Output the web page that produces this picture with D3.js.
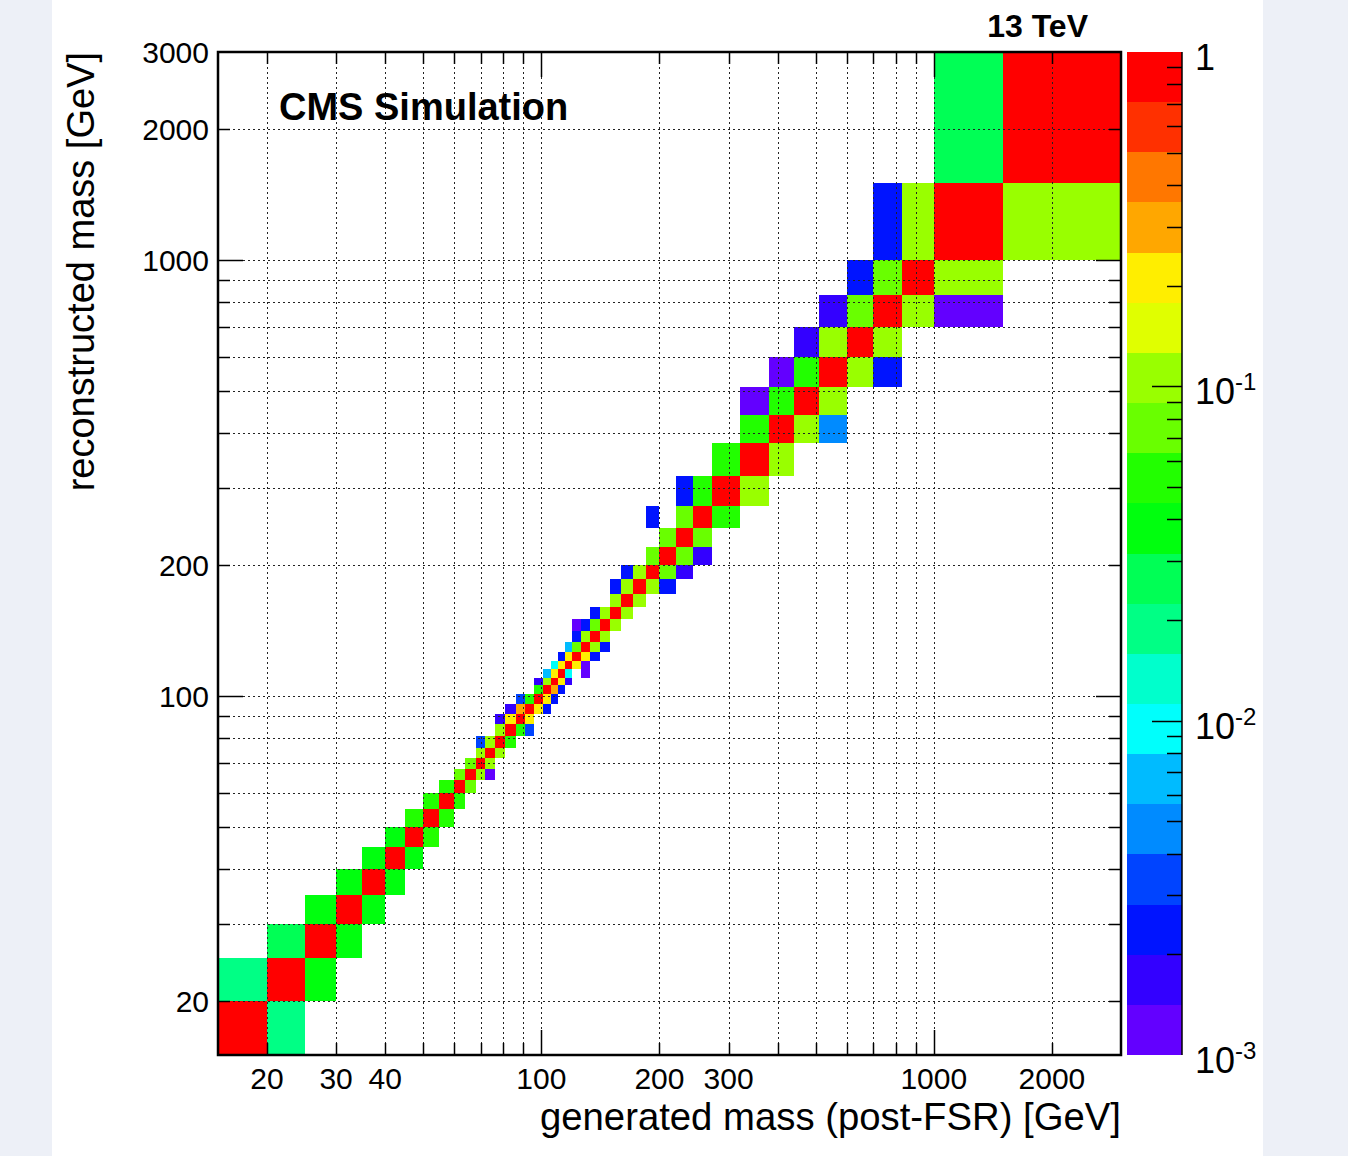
<!DOCTYPE html>
<html>
<head>
<meta charset="utf-8">
<script src="https://cdn.jsdelivr.net/npm/d3@7"></script>
<style>
  body { margin: 0; background: #edf0f7; }
  text { font-family: "Liberation Sans", Arial, Helvetica, sans-serif; fill: #000; }
</style>
</head>
<body>
<svg id="chart" width="1348" height="1156"></svg>
<script>
// Mass binning in GeV (same for gen and reco)
const massEdges = [15, 20, 25, 30, 35, 40, 45, 50, 55, 60, 64, 68, 72, 76, 81, 86, 91, 96, 101, 106,
    110, 115, 120, 126, 133, 141, 150, 160, 171, 185, 200, 220, 243, 273, 320, 380, 440, 510, 600,
    700, 830, 1000, 1500, 3000];

const xTickLabels = [20, 30, 40, 100, 200, 300, 1000, 2000];
const yTickLabels = [20, 100, 200, 1000, 2000, 3000];
const zTickLabels = [1, 0.1, 0.01, 0.001];
const nContours = 20;

// Migration cells: [gen bin, reco bin, fraction]
const cells = [
    [0, 0, 0.85], [0, 1, 0.019],
    [1, 0, 0.018], [1, 1, 0.88], [1, 2, 0.027],
    [2, 1, 0.038], [2, 2, 0.9], [2, 3, 0.036],
    [3, 2, 0.04], [3, 3, 0.89], [3, 4, 0.038],
    [4, 3, 0.041], [4, 4, 0.88], [4, 5, 0.04],
    [5, 4, 0.042], [5, 5, 0.88], [5, 6, 0.043],
    [6, 5, 0.044], [6, 6, 0.87], [6, 7, 0.046],
    [7, 6, 0.047], [7, 7, 0.86], [7, 8, 0.05],
    [8, 7, 0.052], [8, 8, 0.85], [8, 9, 0.058],
    [9, 8, 0.06], [9, 9, 0.83], [9, 10, 0.066],
    [10, 9, 0.07], [10, 10, 0.8], [10, 11, 0.075],
    [11, 10, 0.1], [11, 11, 0.78], [11, 12, 0.1], [11, 13, 0.003],
    [12, 10, 0.0013], [12, 11, 0.11], [12, 12, 0.76], [12, 13, 0.11],
    [13, 12, 0.11], [13, 13, 0.76], [13, 14, 0.1], [13, 15, 0.0015],
    [14, 13, 0.06], [14, 14, 0.74], [14, 15, 0.2], [14, 16, 0.0016],
    [15, 14, 0.06], [15, 15, 0.72], [15, 16, 0.28], [15, 17, 0.003],
    [16, 14, 0.003], [16, 15, 0.2], [16, 16, 0.74], [16, 17, 0.06],
    [17, 16, 0.2], [17, 17, 0.74], [17, 18, 0.06], [17, 19, 0.0018],
    [18, 16, 0.0025], [18, 17, 0.2], [18, 18, 0.74], [18, 19, 0.11], [18, 20, 0.006],
    [19, 17, 0.0025], [19, 18, 0.28], [19, 19, 0.75], [19, 20, 0.2], [19, 21, 0.0095],
    [20, 18, 0.0025], [20, 19, 0.2], [20, 20, 0.76], [20, 21, 0.2], [20, 22, 0.0025],
    [21, 19, 0.0016], [21, 20, 0.0095], [21, 21, 0.78], [21, 22, 0.2], [21, 23, 0.0065],
    [22, 21, 0.2], [22, 22, 0.8], [22, 23, 0.07], [22, 24, 0.0025], [22, 25, 0.0013],
    [23, 20, 0.0014], [23, 21, 0.0013], [23, 22, 0.2], [23, 23, 0.8], [23, 24, 0.1], [23, 25, 0.0025],
    [24, 22, 0.002], [24, 23, 0.12], [24, 24, 0.82], [24, 25, 0.07], [24, 26, 0.0025],
    [25, 23, 0.0025], [25, 24, 0.11], [25, 25, 0.83], [25, 26, 0.1],
    [26, 25, 0.1], [26, 26, 0.84], [26, 27, 0.1], [26, 28, 0.0025],
    [27, 26, 0.1], [27, 27, 0.84], [27, 28, 0.1], [27, 29, 0.0025],
    [28, 27, 0.1], [28, 28, 0.85], [28, 29, 0.1],
    [29, 28, 0.1], [29, 29, 0.85], [29, 30, 0.07], [29, 32, 0.0025],
    [30, 28, 0.0025], [30, 29, 0.07], [30, 30, 0.86], [30, 31, 0.07],
    [31, 29, 0.0016], [31, 30, 0.08], [31, 31, 0.86], [31, 32, 0.07], [31, 33, 0.0022],
    [32, 30, 0.0015], [32, 31, 0.07], [32, 32, 0.87], [32, 33, 0.06],
    [33, 32, 0.06], [33, 33, 0.87], [33, 34, 0.06],
    [34, 33, 0.1], [34, 34, 0.86], [34, 35, 0.06], [34, 36, 0.0013],
    [35, 34, 0.1], [35, 35, 0.86], [35, 36, 0.06], [35, 37, 0.0014],
    [36, 35, 0.1], [36, 36, 0.85], [36, 37, 0.06], [36, 38, 0.0015],
    [37, 35, 0.005], [37, 36, 0.1], [37, 37, 0.85], [37, 38, 0.1], [37, 39, 0.0015],
    [38, 37, 0.1], [38, 38, 0.85], [38, 39, 0.08], [38, 40, 0.002],
    [39, 37, 0.0025], [39, 38, 0.1], [39, 39, 0.85], [39, 40, 0.07], [39, 41, 0.0022],
    [40, 39, 0.1], [40, 40, 0.86], [40, 41, 0.1],
    [41, 39, 0.0014], [41, 40, 0.1], [41, 41, 0.88], [41, 42, 0.027],
    [42, 41, 0.1], [42, 42, 0.9]
];

const W = 1348, H = 1156;
const frame = { left: 218, right: 1121, top: 52, bottom: 1055 };
const bar = { left: 1127, right: 1182 };

const svg = d3.select("#chart");

// white page area
svg.append("rect")
    .attr("x", 52).attr("y", 0)
    .attr("width", 1211).attr("height", H)
    .attr("fill", "#fff");

const x = d3.scaleLog().domain([15, 3000]).range([frame.left, frame.right]);
const y = d3.scaleLog().domain([15, 3000]).range([frame.bottom, frame.top]);
const z = d3.scaleLog().domain([1e-3, 1]).range([frame.bottom, frame.top]);

// ROOT pretty palette (violet -> red), 20 contour levels on log z
const bandWidth = 3 / nContours;
function bandColor(k) {
    const idx = Math.floor((k + 0.99) * 50 / nContours);
    return d3.hsl(280 - (idx + 1) * 5.6, 1, 0.5).formatHex();
}
function color(v) {
    let k = Math.floor((Math.log10(v) + 3) / bandWidth);
    k = Math.max(0, Math.min(nContours - 1, k));
    return bandColor(k);
}

// cells
svg.append("g")
    .attr("shape-rendering", "crispEdges")
    .selectAll("rect")
    .data(cells)
    .join("rect")
    .attr("x", d => x(massEdges[d[0]]))
    .attr("width", d => x(massEdges[d[0] + 1]) - x(massEdges[d[0]]))
    .attr("y", d => y(massEdges[d[1] + 1]))
    .attr("height", d => y(massEdges[d[1]]) - y(massEdges[d[1] + 1]))
    .attr("fill", d => color(d[2]));

// grid (drawn on top, dotted)
const gridVals = x.ticks().filter(v => v > 15 && v < 3000);
const isDecade = v => Math.abs(Math.log10(v) - Math.round(Math.log10(v))) < 1e-9;
const grid = svg.append("g")
    .attr("stroke", "#222")
    .attr("stroke-width", 1)
    .attr("stroke-dasharray", "2,3");
grid.selectAll(".gx").data(gridVals).join("line")
    .attr("x1", d => Math.round(x(d)) + 0.5).attr("x2", d => Math.round(x(d)) + 0.5)
    .attr("y1", frame.top).attr("y2", frame.bottom);
grid.selectAll(".gy").data(gridVals).join("line")
    .attr("y1", d => Math.round(y(d)) + 0.5).attr("y2", d => Math.round(y(d)) + 0.5)
    .attr("x1", frame.left).attr("x2", frame.right);

// tick marks on all four sides
const ticks = svg.append("g").attr("stroke", "#000").attr("stroke-width", 1.5);
const tl = d => isDecade(d) ? 25 : 12;
gridVals.forEach(v => {
    const px = Math.round(x(v)) + 0.5, py = Math.round(y(v)) + 0.5;
    ticks.append("line").attr("x1", px).attr("x2", px).attr("y1", frame.bottom).attr("y2", frame.bottom - tl(v));
    ticks.append("line").attr("x1", px).attr("x2", px).attr("y1", frame.top).attr("y2", frame.top + tl(v));
    ticks.append("line").attr("y1", py).attr("y2", py).attr("x1", frame.left).attr("x2", frame.left + tl(v));
    ticks.append("line").attr("y1", py).attr("y2", py).attr("x1", frame.right).attr("x2", frame.right - tl(v));
});

// frame
svg.append("rect")
    .attr("x", frame.left).attr("y", frame.top)
    .attr("width", frame.right - frame.left).attr("height", frame.bottom - frame.top)
    .attr("fill", "none").attr("stroke", "#000").attr("stroke-width", 2.5);

// tick labels
svg.append("g").selectAll("text").data(xTickLabels).join("text")
    .attr("x", d => x(d)).attr("y", 1089)
    .attr("text-anchor", "middle")
    .attr("font-size", 30)
    .text(d => d);
svg.append("g").selectAll("text").data(yTickLabels).join("text")
    .attr("x", 209).attr("y", d => y(d) + 11)
    .attr("text-anchor", "end")
    .attr("font-size", 30)
    .text(d => d);

// axis titles
svg.append("text")
    .attr("x", frame.right).attr("y", 1130)
    .attr("text-anchor", "end")
    .attr("font-size", 38.3)
    .text("generated mass (post-FSR) [GeV]");
svg.append("text")
    .attr("transform", `translate(94,${frame.top}) rotate(-90)`)
    .attr("text-anchor", "end")
    .attr("font-size", 38)
    .text("reconstructed mass [GeV]");

// labels
svg.append("text")
    .attr("x", 279).attr("y", 120)
    .attr("font-size", 38).attr("font-weight", "bold")
    .text("CMS Simulation");
svg.append("text")
    .attr("x", 1088).attr("y", 37)
    .attr("text-anchor", "end")
    .attr("font-size", 32).attr("font-weight", "bold")
    .text("13 TeV");

// colour bar
const bands = d3.range(nContours);
svg.append("g")
    .attr("shape-rendering", "crispEdges")
    .selectAll("rect").data(bands).join("rect")
    .attr("x", bar.left).attr("width", bar.right - bar.left)
    .attr("y", k => z(Math.pow(10, -3 + (k + 1) * bandWidth)))
    .attr("height", k => z(Math.pow(10, -3 + k * bandWidth)) - z(Math.pow(10, -3 + (k + 1) * bandWidth)))
    .attr("fill", k => bandColor(k));

const zTicks = z.ticks().filter(v => v > 1e-3 && v < 1);
svg.append("g").attr("stroke", "#000").attr("stroke-width", 1.5)
    .selectAll("line").data(zTicks).join("line")
    .attr("x1", bar.right).attr("x2", d => bar.right - (isDecade(d) ? 30 : 15))
    .attr("y1", d => Math.round(z(d)) + 0.5).attr("y2", d => Math.round(z(d)) + 0.5);
svg.append("line")
    .attr("x1", bar.right).attr("x2", bar.right)
    .attr("y1", frame.top).attr("y2", frame.bottom)
    .attr("stroke", "#000").attr("stroke-width", 1.5);

const zl = svg.append("g").selectAll("text").data(zTickLabels).join("text")
    .attr("x", 1195).attr("y", d => z(d) + 18)
    .attr("font-size", 36);
zl.each(function (d) {
    const t = d3.select(this);
    if (d === 1) { t.text("1"); return; }
    t.append("tspan").text("10");
    t.append("tspan").attr("font-size", 24).attr("dy", -14).text(String(Math.round(Math.log10(d))));
});
</script>
</body>
</html>
